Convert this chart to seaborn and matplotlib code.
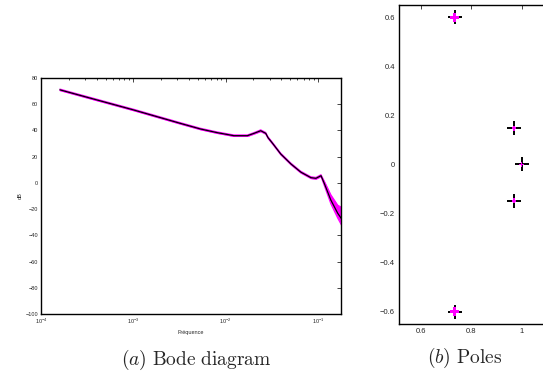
import numpy as np
import pandas as pd
import matplotlib
matplotlib.use("Agg")
import matplotlib.pyplot as plt
import seaborn as sns
from matplotlib.ticker import LogLocator, NullFormatter, MultipleLocator

# ---- data: Bode magnitude (nominal) ----
freq = [1.60e-4, 3.16e-4, 1.0e-3, 3.16e-3, 5.35e-3, 8.13e-3, 1.23e-2,
        1.72e-2, 2.03e-2, 2.40e-2, 2.72e-2, 2.88e-2, 3.24e-2, 3.96e-2,
        5.09e-2, 6.53e-2, 8.39e-2, 9.51e-2, 1.08e-1, 1.17e-1, 1.38e-1,
        1.64e-1, 1.84e-1]
mag_db = [71.0, 65.3, 55.7, 45.6, 41.1, 38.3, 36.0,
          36.0, 37.8, 39.8, 37.8, 34.5, 30.0, 22.0,
          14.5, 8.2, 4.0, 3.5, 5.5, -0.3, -13.1,
          -23.2, -28.3]
# uncertainty envelope (magenta)
band_hi = [71.6, 65.9, 56.3, 46.2, 41.7, 38.9, 36.6,
           36.6, 38.4, 40.5, 38.5, 35.2, 30.7, 22.7,
           15.2, 8.9, 4.7, 4.2, 6.3, 1.5, -9.0,
           -17.0, -19.0]
band_lo = [70.4, 64.7, 55.1, 45.0, 40.5, 37.7, 35.4,
           35.4, 37.2, 39.1, 37.1, 33.8, 29.3, 21.3,
           13.8, 7.5, 3.3, 2.8, 4.7, -2.0, -16.0,
           -27.0, -33.5]

# ---- data: poles ----
pole_re = [0.735, 0.735, 0.970, 0.970, 1.000]
pole_im = [0.600, -0.600, 0.148, -0.148, 0.000]
pole_group = ["outer", "outer", "inner", "inner", "inner"]

xticks_b = [0.6, 0.8, 1.0]
yticks_b = [-0.6, -0.4, -0.2, 0, 0.2, 0.4, 0.6]

sns.set_style("white")
plt.rcParams["font.family"] = ["Liberation Sans", "DejaVu Sans"]

W, H = 543, 378
fig = plt.figure(figsize=(W / 100, H / 100), dpi=100)

# ---------------- left: Bode ----------------
axa = fig.add_axes([41 / W, 1 - 314 / H, 300 / W, 236 / H])
df = pd.DataFrame({"f": freq, "db": mag_db, "hi": band_hi, "lo": band_lo})
axa.fill_between(df["f"], df["lo"], df["hi"], color="#ff00ff", lw=0, zorder=2)
sns.lineplot(data=df, x="f", y="hi", ax=axa, color="#ff00ff", lw=0.8,
             estimator=None, sort=False, zorder=2)
sns.lineplot(data=df, x="f", y="lo", ax=axa, color="#ff00ff", lw=0.8,
             estimator=None, sort=False, zorder=2)
sns.lineplot(data=df, x="f", y="db", ax=axa, color="black", lw=0.9,
             estimator=None, sort=False, zorder=3)
axa.set_xscale("log")
axa.set_xlim(1e-4, 10 ** (-1 + 23 / 92))
axa.set_ylim(-100, 80)
axa.yaxis.set_major_locator(MultipleLocator(20))
axa.xaxis.set_major_locator(LogLocator(base=10, numticks=10))
axa.xaxis.set_minor_locator(LogLocator(base=10, subs=np.arange(2, 10), numticks=20))
axa.xaxis.set_minor_formatter(NullFormatter())
axa.set_xlabel("Fréquence", fontsize=4, labelpad=3)
axa.set_ylabel("dB", fontsize=4, labelpad=2)
axa.tick_params(which="both", direction="in", top=True, right=True,
                labelsize=4, pad=2, width=0.6)
axa.tick_params(which="major", length=3)
axa.tick_params(which="minor", length=1.5)
for s in axa.spines.values():
    s.set_color("black")
    s.set_linewidth(1.0)

# ---------------- right: poles ----------------
axb = fig.add_axes([399 / W, 1 - 324 / H, 173 / W, 319 / H])
pdf = pd.DataFrame({"re": pole_re, "im": pole_im, "g": pole_group})
sns.scatterplot(data=pdf, x="re", y="im", ax=axb, marker="+", s=95,
                color="black", linewidth=1.4, zorder=3, legend=False)
sns.scatterplot(data=pdf, x="re", y="im", ax=axb, marker="P", hue="g",
                size="g", sizes={"outer": 40, "inner": 12},
                palette={"outer": "#ff00ff", "inner": "#ff00ff"},
                linewidth=0, zorder=4, legend=False)
axb.set_xlim(0.514, 1.2)
axb.set_ylim(-0.65, 0.65)
axb.set_xticks(xticks_b)
axb.set_xticklabels(["0.6", "0.8", "1"])
axb.set_yticks(yticks_b)
axb.set_yticklabels(["\u22120.6", "\u22120.4", "\u22120.2", "0", "0.2", "0.4", "0.6"])
axb.set_xlabel("")
axb.set_ylabel("")
axb.tick_params(which="both", direction="in", top=True, right=True,
                labelsize=5.5, pad=3, length=3, width=0.6)
for s in axb.spines.values():
    s.set_color("black")
    s.set_linewidth(1.0)

# ---------------- captions ----------------
fig.text(196 / W, 1 - 360 / H, r"$(a)\ \mathrm{Bode\ diagram}$",
         ha="center", va="center", fontsize=14, math_fontfamily="cm")
fig.text(465 / W, 1 - 358 / H, r"$(b)\ \mathrm{Poles}$",
         ha="center", va="center", fontsize=14, math_fontfamily="cm")

fig.savefig("out.png", dpi=100)
